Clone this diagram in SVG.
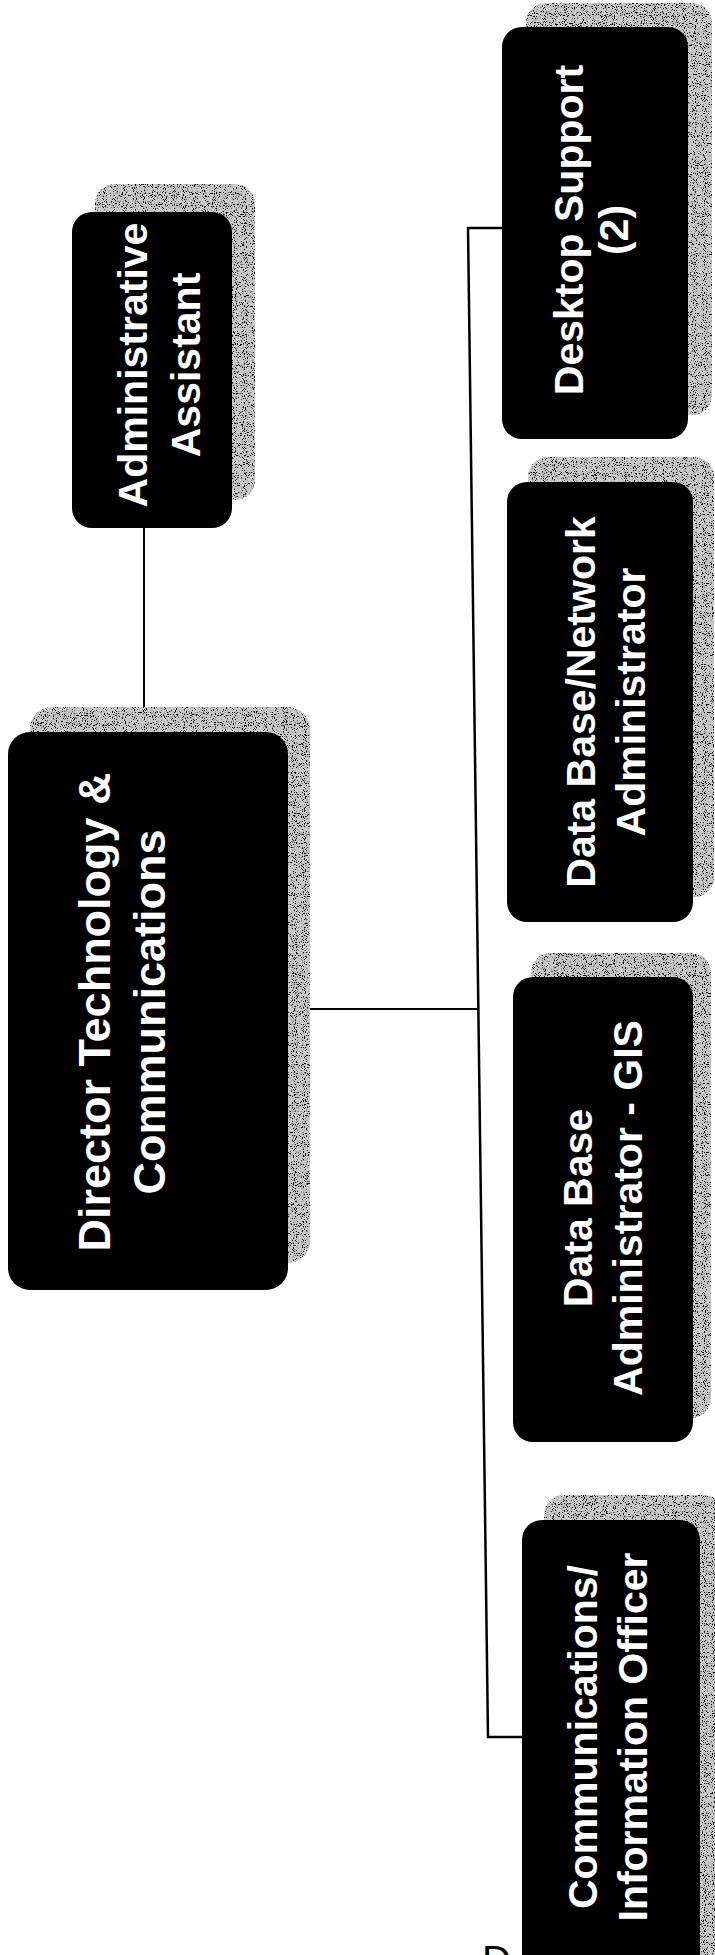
<svg xmlns="http://www.w3.org/2000/svg" width="715" height="1955" viewBox="0 0 715 1955">
<defs>
<style>
.box{fill:#000;}
.sh{fill:#c8c8c8;filter:url(#speckle);}
.lbl{fill:#fff;font-family:"Liberation Sans",Arial,sans-serif;font-weight:bold;text-anchor:middle;font-size:41px;}
.big{font-size:45px;}
.con{fill:none;stroke:#000;stroke-width:2;}
</style>
<filter id="speckle" x="0" y="0" width="100%" height="100%">
<feTurbulence type="fractalNoise" baseFrequency="0.9" numOctaves="1" seed="7" result="n"/>
<feColorMatrix in="n" type="matrix" values="0 0 0 0 0 0 0 0 0 0 0 0 0 0 0 14 0 0 0 -7.8" result="d"/>
<feComposite in="d" in2="SourceAlpha" operator="in" result="dc"/>
<feMerge><feMergeNode in="SourceGraphic"/><feMergeNode in="dc"/></feMerge>
</filter>
</defs>
<rect width="715" height="1955" fill="#fff"/>
<g id="connectors">
<line class="con" x1="144" y1="528" x2="144" y2="732"/>
<line class="con" x1="310" y1="1009" x2="478" y2="1009"/>
<path class="con" style="stroke-width:2.5" d="M502 228 H468 L488 1737 H522"/>
</g>
<g id="admin-assistant">
<rect class="sh" x="95" y="184" width="160" height="316" rx="20"/>
<rect class="box" x="72" y="212" width="160" height="316" rx="20"/>
<text class="lbl" transform="translate(147,365) rotate(-90)">Administrative</text>
<text class="lbl" transform="translate(200,365) rotate(-90)">Assistant</text>
</g>
<g id="director">
<rect class="sh" x="30" y="707" width="280" height="556" rx="22"/>
<rect class="box" x="8" y="732" width="280" height="558" rx="22"/>
<text class="lbl big" transform="translate(110,1012) rotate(-90)">Director Technology &amp;</text>
<text class="lbl big" transform="translate(165,1012) rotate(-90)">Communications</text>
</g>
<g id="desktop-support">
<rect class="sh" x="526" y="3" width="186" height="412" rx="20"/>
<rect class="box" x="502" y="27" width="186" height="412" rx="20"/>
<text class="lbl" transform="translate(583,230) rotate(-90)">Desktop Support</text>
<text class="lbl" transform="translate(628,230) rotate(-90)">(2)</text>
</g>
<g id="db-network-admin">
<rect class="sh" x="528" y="457" width="186" height="440" rx="20"/>
<rect class="box" x="507" y="482" width="186" height="440" rx="20"/>
<text class="lbl" transform="translate(595,702) rotate(-90)">Data Base/Network</text>
<text class="lbl" transform="translate(645,702) rotate(-90)">Administrator</text>
</g>
<g id="db-admin-gis">
<rect class="sh" x="531" y="953" width="180" height="465" rx="20"/>
<rect class="box" x="513" y="977" width="180" height="465" rx="20"/>
<text class="lbl" transform="translate(592,1208) rotate(-90)">Data Base</text>
<text class="lbl" transform="translate(642,1208) rotate(-90)">Administrator - GIS</text>
</g>
<g id="comm-info-officer">
<rect class="sh" x="544" y="1495" width="180" height="470" rx="20"/>
<rect class="box" x="522" y="1520" width="178" height="460" rx="20"/>
<text class="lbl" transform="translate(597,1737) rotate(-90)">Communications/</text>
<text class="lbl" transform="translate(647,1737) rotate(-90)">Information Officer</text>
</g>
<text x="482" y="1974" font-family="Liberation Sans,Arial,sans-serif" font-size="40" fill="#000">D</text>
</svg>
